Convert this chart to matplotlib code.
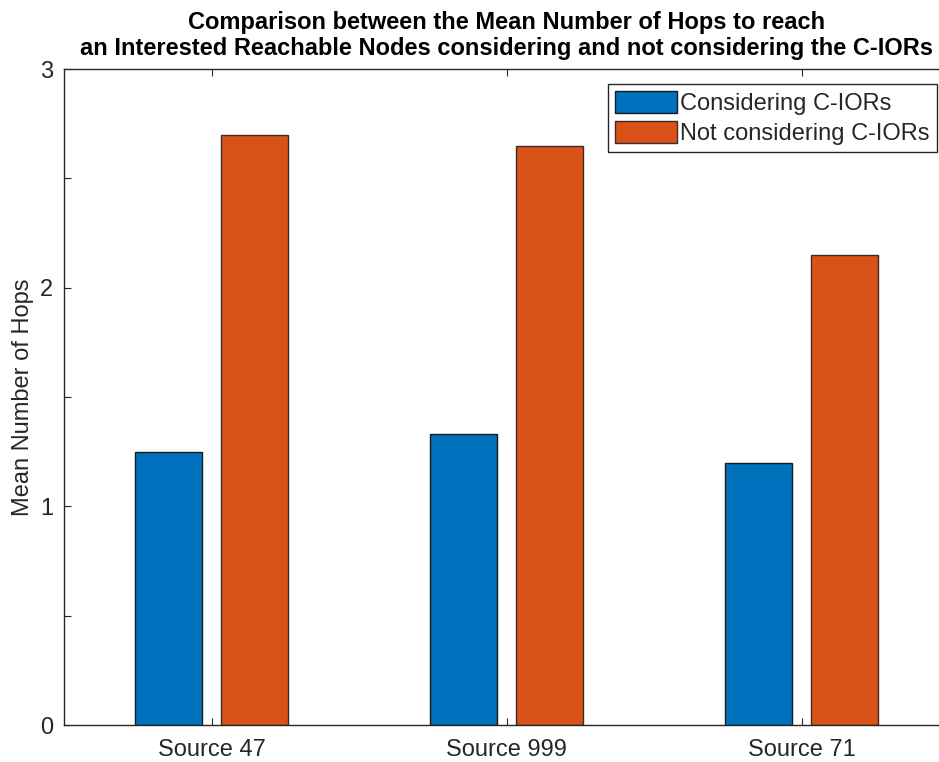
import numpy as np
import matplotlib
matplotlib.use("Agg")
import matplotlib.pyplot as plt

# Data
sources = ["Source 47", "Source 999", "Source 71"]
considering = [1.25, 1.33, 1.20]
not_considering = [2.70, 2.65, 2.15]
series_labels = ["Considering C-IORs", "Not considering C-IORs"]
title_lines = ["Comparison between the Mean Number of Hops to reach",
               "an Interested Reachable Nodes considering and not considering the C-IORs"]
ylabel = "Mean Number of Hops"

plt.rcParams["font.family"] = ["Liberation Sans", "DejaVu Sans"]
axis_color = "#262626"

W, H = 939, 762
fig = plt.figure(figsize=(W / 100, H / 100), dpi=100)
left, right, bottom, top = 64, 949, 725, 69
ax = fig.add_axes([left / W, 1 - bottom / H, (right - left) / W, (bottom - top) / H])

x = np.arange(1, len(sources) + 1)
width = 0.23
offset = 0.146
ax.bar(x - offset, considering, width, color="#0072BD", edgecolor="#1a1a1a",
       linewidth=1.0, label=series_labels[0])
ax.bar(x + offset, not_considering, width, color="#D95319", edgecolor="#3a2a2a",
       linewidth=1.0, label=series_labels[1])

ax.set_xlim(0.5, 3.5)
ax.set_ylim(0, 3)
ax.set_xticks(x)
ax.set_xticklabels(sources)
yt = np.arange(0, 3.01, 0.5)
ax.set_yticks(yt)
ax.set_yticklabels([f"{v:g}" if v == int(v) else "" for v in yt])

for s in ax.spines.values():
    s.set_color(axis_color)
    s.set_linewidth(1.0)
ax.tick_params(axis="both", direction="in", length=5, width=0.8, color=axis_color,
               labelcolor=axis_color, labelsize=17, top=True, right=True)
ax.tick_params(axis="x", pad=10)
ax.tick_params(axis="y", pad=8)

ax.set_ylabel(ylabel, fontsize=17, color=axis_color, labelpad=4)

ax.set_title("\n".join(title_lines), fontsize=17, fontweight="bold",
             color="black", pad=10, linespacing=1.2)

leg = ax.legend(loc="upper right", bbox_to_anchor=(937 / W, 1 - 84 / H),
                bbox_transform=fig.transFigure, borderaxespad=0, fontsize=17,
                fancybox=False, framealpha=1, edgecolor=axis_color,
                handlelength=2.6, handleheight=1.05, handletextpad=0.15,
                labelspacing=0.25, borderpad=0.3)
leg.get_frame().set_linewidth(1.0)
for t in leg.get_texts():
    t.set_color(axis_color)

fig.savefig("out.png", dpi=100)
